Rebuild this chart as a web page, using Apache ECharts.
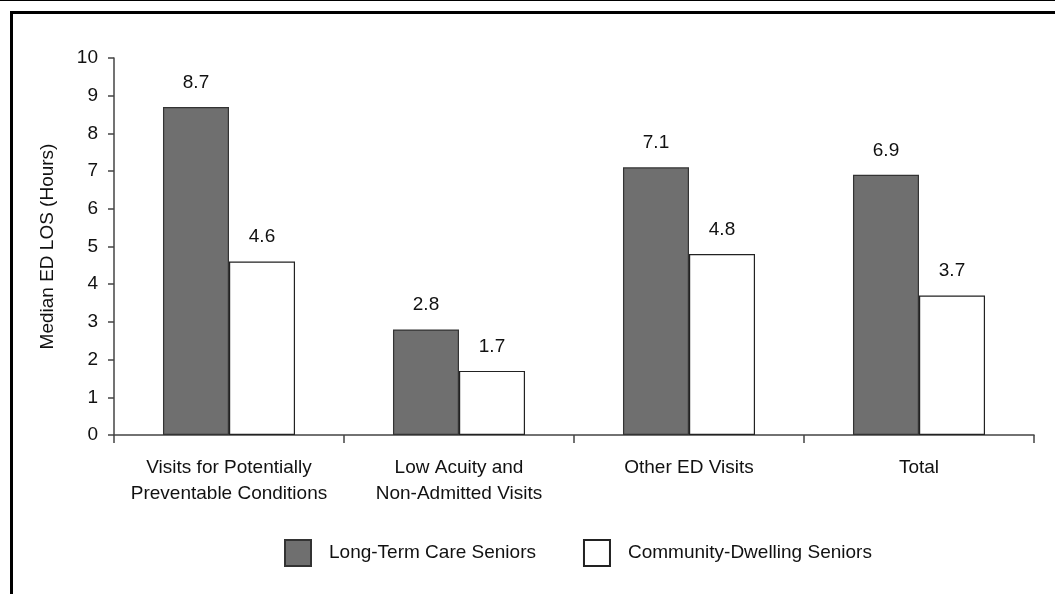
<!DOCTYPE html>
<html>
<head>
<meta charset="utf-8">
<script src="https://cdn.jsdelivr.net/npm/echarts@6/dist/echarts.min.js"></script>
<style>
  html, body { margin: 0; padding: 0; background: #fff; }
  #chart { width: 1055px; height: 594px; }
</style>
</head>
<body>
<div id="chart"></div>
<script>
// Median emergency department length of stay, by visit type
const categories = [
  'Visits for Potentially\nPreventable Conditions',
  'Low Acuity and\nNon-Admitted Visits',
  'Other ED Visits',
  'Total'
];
const seriesNames = ['Long-Term Care Seniors', 'Community-Dwelling Seniors'];
const longTermCare = [8.7, 2.8, 7.1, 6.9];
const communityDwelling = [4.6, 1.7, 4.8, 3.7];
const yTicks = { min: 0, max: 10, interval: 1 };

const FONT = '"Liberation Sans", Arial, sans-serif';
const INK = '#111';

const chart = echarts.init(document.getElementById('chart'), null, { renderer: 'canvas' });

const labelStyle = {
  show: true,
  position: 'top',
  distance: 15,
  color: INK,
  fontFamily: FONT,
  fontSize: 19,
  formatter: p => p.value.toFixed(1)
};

chart.setOption({
  backgroundColor: '#fff',
  animation: false,
  textStyle: { fontFamily: FONT, color: INK },
  graphic: [
    // frame lines around the figure
    { type: 'rect', shape: { x: 0, y: 0, width: 1055, height: 1 }, style: { fill: '#000' } },
    { type: 'rect', shape: { x: 10, y: 11, width: 1045, height: 3 }, style: { fill: '#000' } },
    { type: 'rect', shape: { x: 10, y: 11, width: 3, height: 583 }, style: { fill: '#000' } }
  ],
  grid: { left: 114, right: 21, top: 58, bottom: 159, containLabel: false },
  legend: {
    data: seriesNames,
    bottom: 22,
    left: 279,
    itemWidth: 26,
    itemHeight: 26,
    itemGap: 47,
    icon: 'rect',
    textStyle: { fontFamily: FONT, fontSize: 19, color: INK, padding: [0, 0, 0, 13] },
    selectedMode: false
  },
  xAxis: {
    type: 'category',
    data: categories,
    boundaryGap: true,
    axisLine: { lineStyle: { color: '#444', width: 1.5 } },
    axisTick: { show: true, interval: 0, length: 8, lineStyle: { color: '#444', width: 1.5 } },
    axisLabel: {
      interval: 0,
      margin: 20,
      color: INK,
      fontFamily: FONT,
      fontSize: 19,
      lineHeight: 26
    }
  },
  yAxis: {
    type: 'value',
    min: yTicks.min,
    max: yTicks.max,
    interval: yTicks.interval,
    name: 'Median ED LOS (Hours)',
    nameLocation: 'middle',
    nameGap: 57,
    nameRotate: 90,
    nameTextStyle: { fontFamily: FONT, fontSize: 19, color: INK },
    splitLine: { show: false },
    axisLine: { show: true, lineStyle: { color: '#444', width: 1.5 } },
    axisTick: { show: true, length: 6, lineStyle: { color: '#444', width: 1.5 } },
    axisLabel: { margin: 16, color: INK, fontFamily: FONT, fontSize: 19 }
  },
  series: [
    {
      name: seriesNames[0],
      type: 'bar',
      data: longTermCare,
      barGap: '0%',
      barCategoryGap: '42.6%',
      itemStyle: { color: '#6f6f6f', borderColor: '#333', borderWidth: 1.2 },
      label: labelStyle
    },
    {
      name: seriesNames[1],
      type: 'bar',
      data: communityDwelling,
      barGap: '0%',
      barCategoryGap: '42.6%',
      itemStyle: { color: '#fff', borderColor: '#222', borderWidth: 1.2 },
      label: labelStyle
    }
  ]
});
</script>
</body>
</html>
